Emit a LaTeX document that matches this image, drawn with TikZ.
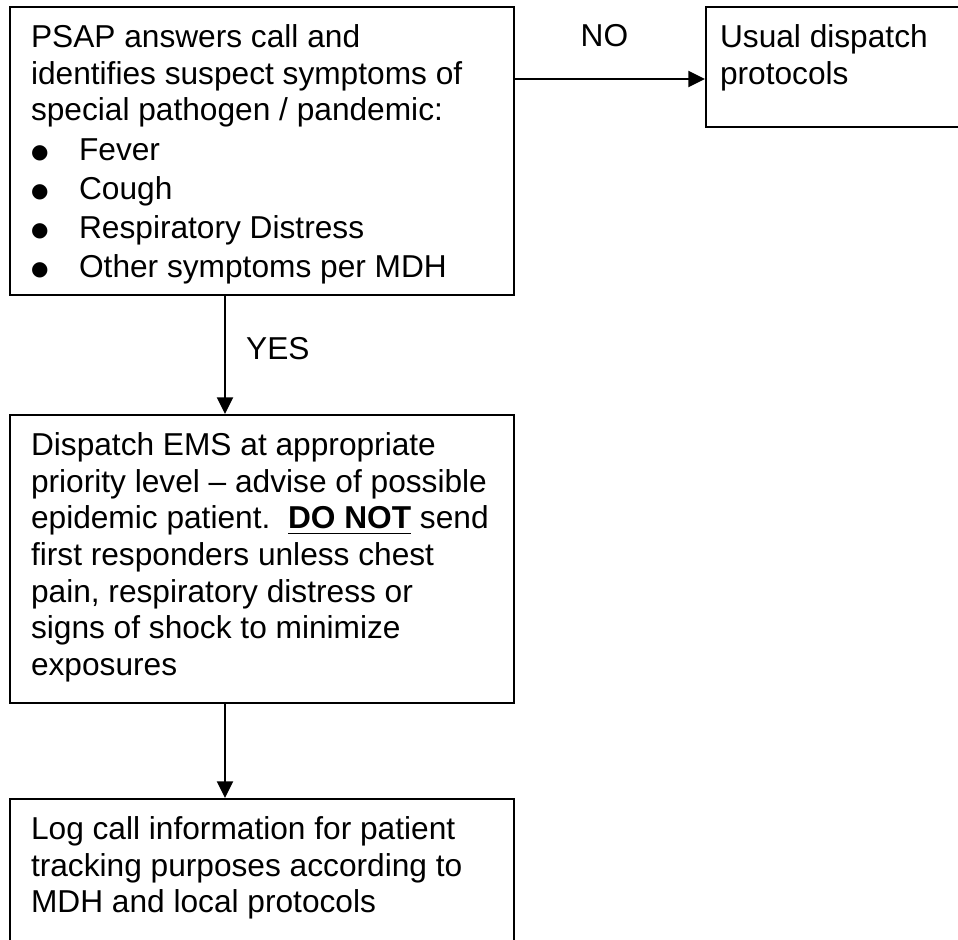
\documentclass[tikz,border=0pt]{standalone}
\usepackage{fontspec}
\setmainfont{Liberation Sans}
\newfontfamily\symfont{DejaVu Sans}
\usetikzlibrary{arrows.meta, calc}

% bullet and top-aligned box text
\newcommand{\bul}{\makebox[17.3pt][l]{\raisebox{0.6pt}{\symfont\fontsize{7.2}{8}\selectfont ●}}}
\newcommand{\boxtext}[3]{\parbox[t][#1][t]{#2}{\raggedright\rule{0pt}{14.6pt}#3}}

\begin{document}
\begin{tikzpicture}[x=0.36pt, y=-0.36pt,
  stepbox/.style={draw, line width=0.75pt, anchor=north west, inner ysep=0pt,
                  inner xsep=7.56pt, font=\fontsize{11.4}{13.2}\selectfont},
  arr/.style={-{Triangle[length=6pt,width=5.8pt]}, line width=0.6pt},
  lbl/.style={font=\fontsize{11.4}{13}\selectfont}
]
\clip (0,0) rectangle (958,939);
\node[stepbox] (psap) at (9,6) {\boxtext{103.7pt}{166.3pt}{%
  PSAP answers call and\\
  identifies suspect symptoms of\\
  special pathogen / pandemic:\\[0.9pt]
  \bul Fever\\[0.9pt]
  \bul Cough\\[0.9pt]
  \bul Respiratory Distress\\[0.9pt]
  \bul Other symptoms per MDH}};
\node[stepbox, inner xsep=5.04pt] (usual) at (705,6) {\boxtext{43.2pt}{96.1pt}{%
  Usual dispatch\\
  protocols}};
\node[stepbox] (ems) at (9,414) {\boxtext{103.7pt}{166.3pt}{%
  Dispatch EMS at appropriate\\
  priority level -- advise of possible\\
  epidemic patient.\ \ \textbf{\underline{DO NOT}} send\\
  first responders unless chest\\
  pain, respiratory distress or\\
  signs of shock to minimize\\
  exposures}};
\node[stepbox] (log) at (9,798) {\boxtext{90pt}{166.3pt}{%
  Log call information for patient\\
  tracking purposes according to\\
  MDH and local protocols}};
\draw[arr] ($(psap.north east)+(0,73)$) -- ($(usual.north west)+(0,73)$)
  node[lbl, midway, above=7.8pt, xshift=-2pt] (no) {NO};
\draw[arr] ($(psap.south west)+(216,0)$) -- ($(ems.north west)+(216,0)$)
  node[lbl, midway, right=4pt, yshift=2.5pt] (yes) {YES};
\draw[arr] ($(ems.south west)+(216,0)$) -- ($(log.north west)+(216,0)$);
\end{tikzpicture}
\end{document}
